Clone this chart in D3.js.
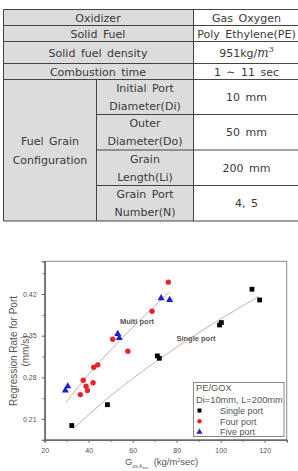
<!DOCTYPE html>
<html>
<head>
<meta charset="utf-8">
<script src="https://cdn.jsdelivr.net/npm/d3@7"></script>
<style>
  body { margin: 0; background: #fff; }
  svg { display: block; }
  .cell { font-family: "DejaVu Sans", sans-serif; font-size: 11px; fill: #3a3a3a; word-spacing: 2px; }
  .tick-label { font-family: "Liberation Sans", Arial, sans-serif; font-size: 7px; fill: #555; }
  .axis-title { font-family: "Liberation Sans", Arial, sans-serif; fill: #555; }
</style>
</head>
<body>
<script>
// table
var simpleRows = ["Oxidizer", "Solid Fuel", "Solid fuel density", "Combustion time"]
var simpleValues = ["Gas Oxygen", "Poly Ethylene(PE)", "951kg/m3", "1 \u223C 11 sec"]
var grainLabel = ["Fuel Grain", "Configuration"]
var grainRows = [["Initial Port", "Diameter(Di)"], ["Outer", "Diameter(Do)"], ["Grain", "Length(Li)"], ["Grain Port", "Number(N)"]]
var grainValues = ["10 mm", "50 mm", "200 mm", "4, 5"]

// chart
var singleG = [32.3, 48.5, 71.2, 72.1, 99.5, 100.3, 114.2, 117.7]
var singleR = [0.199, 0.234, 0.316, 0.312, 0.368, 0.372, 0.428, 0.410]
var fourG = [36.2, 37.5, 38.8, 39.4, 42.0, 42.3, 44.1, 50.9, 57.8, 68.8, 76.2]
var fourR = [0.251, 0.275, 0.265, 0.258, 0.271, 0.297, 0.301, 0.344, 0.324, 0.391, 0.440]
var fiveG = [29.4, 30.5, 53.2, 53.9, 72.9, 76.8]
var fiveR = [0.258, 0.265, 0.353, 0.346, 0.413, 0.410]
var multiFitG = [29.5, 40, 50, 60, 70, 76.6]
var multiFitR = [0.237, 0.285, 0.326, 0.364, 0.400, 0.423]
var singleFitG = [32.7, 50, 70, 90, 117.4]
var singleFitR = [0.193, 0.249, 0.305, 0.355, 0.416]
var xTicks = [20, 40, 60, 80, 100, 120]
var yTicks = [0.21, 0.28, 0.35, 0.42]
var legendLines = ["PE/GOX", "Di=10mm, L=200mm"]
var legendNames = ["Single port", "Four port", "Five port"]

var svg = d3.select("body").append("svg").attr("width", 298).attr("height", 471)

drawTable()
drawChart()

function drawTable() {
  var left = 3.5, mid = 96.5, split = 193.5, right = 298.5
  var rowY = [9.5, 25.5, 41.5, 63.5, 79.5]
  var grainY = [79.5, 114.5, 150, 185.5, 221]
  var g = svg.append("g")
  var grey = "#dcdcdc", line = "#444"

  // backgrounds
  g.append("rect").attr("x", left).attr("y", rowY[0]).attr("width", split - left).attr("height", grainY[4] - rowY[0]).attr("fill", grey)
  g.append("rect").attr("x", split).attr("y", rowY[0]).attr("width", right - split).attr("height", grainY[4] - rowY[0]).attr("fill", "#fff")

  // horizontal lines
  rowY.forEach(function(y) {
    g.append("line").attr("x1", left).attr("x2", right).attr("y1", y).attr("y2", y).attr("stroke", line)
  })
  grainY.slice(1).forEach(function(y, i) {
    var x1 = i == 3 ? left : mid
    g.append("line").attr("x1", x1).attr("x2", right).attr("y1", y).attr("y2", y).attr("stroke", line)
  })
  g.append("line").attr("x1", left).attr("x2", left).attr("y1", rowY[0]).attr("y2", grainY[4]).attr("stroke", line)
  g.append("line").attr("x1", split).attr("x2", split).attr("y1", rowY[0]).attr("y2", grainY[4]).attr("stroke", line)
  g.append("line").attr("x1", right).attr("x2", right).attr("y1", rowY[0]).attr("y2", grainY[4]).attr("stroke", line)
  g.append("line").attr("x1", mid).attr("x2", mid).attr("y1", grainY[0]).attr("y2", grainY[4]).attr("stroke", line)

  var valueX = 246.5
  for (var i = 0; i < simpleRows.length; i++) {
    var cy = (rowY[i] + rowY[i + 1]) / 2 + 4
    addCell(g, simpleRows[i], 98, cy)
    if (i == 2) {
      var t = g.append("text").attr("class", "cell").attr("x", valueX).attr("y", cy).attr("text-anchor", "middle")
      t.append("tspan").text("951kg/")
      t.append("tspan").text("m").style("font-family", "DejaVu Serif, serif").style("font-style", "italic").style("font-size", "12px")
      t.append("tspan").text("3").attr("dy", -5).style("font-family", "DejaVu Serif, serif").style("font-size", "8px")
    } else {
      addCell(g, simpleValues[i], valueX, cy)
    }
  }
  var gmid = (grainY[0] + grainY[4]) / 2
  addCell(g, grainLabel[0], 50, gmid - 5)
  addCell(g, grainLabel[1], 50, gmid + 14)
  for (var j = 0; j < grainRows.length; j++) {
    var c = (grainY[j] + grainY[j + 1]) / 2
    addCell(g, grainRows[j][0], 145, c - 5)
    addCell(g, grainRows[j][1], 145, c + 13)
    addCell(g, grainValues[j], valueX, c + 4)
  }
}

function addCell(g, txt, x, y) {
  g.append("text").attr("class", "cell").attr("x", x).attr("y", y).attr("text-anchor", "middle").text(txt)
}

function drawChart() {
  var x = d3.scaleLinear().domain([20, 130]).range([44.7, 286.7])
  var y = d3.scaleLinear().domain([0.175, 0.475]).range([439.8, 261.3])
  var g = svg.append("g")
  var axisColor = "#666"

  g.append("rect").attr("x", x(20)).attr("y", y(0.475)).attr("width", x(130) - x(20)).attr("height", y(0.175) - y(0.475))
    .attr("fill", "none").attr("stroke", "#888").attr("stroke-width", 1)

  var xAxis = g.append("g").attr("transform", "translate(0," + y(0.175) + ")")
    .call(d3.axisBottom(x).tickValues(xTicks).tickSize(3).tickFormat(d3.format("d")))
  var xMinor = g.append("g").attr("transform", "translate(0," + y(0.175) + ")")
    .call(d3.axisBottom(x).tickValues([30, 50, 70, 90, 110, 130]).tickSize(2).tickFormat(""))
  var yAxis = g.append("g").attr("transform", "translate(" + x(20) + ",0)")
    .call(d3.axisLeft(y).tickValues(yTicks).tickSize(3).tickFormat(d3.format(".2f")))
  var yMinor = g.append("g").attr("transform", "translate(" + x(20) + ",0)")
    .call(d3.axisLeft(y).tickValues([0.245, 0.315, 0.385, 0.455]).tickSize(2).tickFormat(""))
  ;[xAxis, xMinor, yAxis, yMinor].forEach(function(a) {
    a.select(".domain").attr("stroke", "#666")
    a.selectAll("line").attr("stroke", axisColor)
    a.selectAll("text").attr("class", "tick-label").attr("fill", "#555")
  })
  xAxis.selectAll("text").attr("dy", "1.1em")
  yAxis.selectAll("text").attr("dx", "-0.3em")

  // fit lines
  var lineGen = d3.line().x(function(d) { return x(d[0]) }).y(function(d) { return y(d[1]) }).curve(d3.curveMonotoneX)
  g.append("path").datum(d3.zip(multiFitG, multiFitR)).attr("d", lineGen).attr("fill", "none").attr("stroke", "#d4a9a9").attr("stroke-width", 1)
  g.append("path").datum(d3.zip(singleFitG, singleFitR)).attr("d", lineGen).attr("fill", "none").attr("stroke", "#d4a9a9").attr("stroke-width", 1)

  var red = "#e8232a", blue = "#1f1fd0"
  g.selectAll(".single").data(d3.zip(singleG, singleR)).enter().append("rect")
    .attr("x", function(d) { return x(d[0]) - 2.4 }).attr("y", function(d) { return y(d[1]) - 2.4 })
    .attr("width", 4.8).attr("height", 4.8).attr("fill", "#000")
  g.selectAll(".four").data(d3.zip(fourG, fourR)).enter().append("circle")
    .attr("cx", function(d) { return x(d[0]) }).attr("cy", function(d) { return y(d[1]) })
    .attr("r", 2.7).attr("fill", red)
  var tri = d3.symbol().type(d3.symbolTriangle).size(22)
  g.selectAll(".five").data(d3.zip(fiveG, fiveR)).enter().append("path")
    .attr("d", tri).attr("transform", function(d) { return "translate(" + x(d[0]) + "," + y(d[1]) + ")" })
    .attr("fill", blue)

  g.append("text").attr("x", 137).attr("y", 323.5).attr("text-anchor", "middle").attr("class", "axis-title")
    .style("font-size", "7.5px").style("font-weight", "bold").attr("fill", "#222").text("Multi port")
  g.append("text").attr("x", 196).attr("y", 340.5).attr("text-anchor", "middle").attr("class", "axis-title")
    .style("font-size", "7.5px").style("font-weight", "bold").attr("fill", "#222").text("Single port")

  // legend
  var lg = g.append("g")
  lg.append("rect").attr("x", 193.5).attr("y", 382.5).attr("width", 90.5).attr("height", 54).attr("fill", "#fff").attr("stroke", "#888")
  legendLines.forEach(function(t, i) {
    lg.append("text").attr("x", 196).attr("y", 390.5 + i * 12).attr("class", "axis-title").style("font-size", "9.3px").attr("fill", "#444").text(t)
  })
  legendNames.forEach(function(t, i) {
    var ly = 410.5 + i * 10.8
    if (i == 0) lg.append("rect").attr("x", 197.5).attr("y", ly - 2).attr("width", 4).attr("height", 4).attr("fill", "#000")
    if (i == 1) lg.append("circle").attr("cx", 199.5).attr("cy", ly).attr("r", 2.2).attr("fill", red)
    if (i == 2) lg.append("path").attr("d", d3.symbol().type(d3.symbolTriangle).size(16)).attr("transform", "translate(199.5," + ly + ")").attr("fill", blue)
    lg.append("text").attr("x", 220).attr("y", ly + 3.2).attr("class", "axis-title").style("font-size", "9px").attr("fill", "#444").text(t)
  })

  // axis titles
  var yt = g.append("text").attr("class", "axis-title").attr("text-anchor", "middle").style("font-size", "10px")
    .attr("transform", "translate(17," + 351 + ") rotate(-90)")
  yt.append("tspan").attr("x", 0).attr("y", 0).text("Regression Rate for Port")
  yt.append("tspan").attr("x", 0).attr("y", 12).text("(mm/s)")

  var xt = g.append("text").attr("class", "axis-title").attr("x", 125).attr("y", 465).style("font-size", "9.5px")
  xt.append("tspan").text("G")
  xt.append("tspan").text("ox,A").attr("dy", 2.5).style("font-size", "5px")
  xt.append("tspan").text("sec").attr("dy", 1.5).style("font-size", "4px")
  xt.append("tspan").text("(kg/m").attr("dy", -4).attr("dx", 5)
  xt.append("tspan").text("2").attr("dy", -3.5).style("font-size", "5px")
  xt.append("tspan").text("sec)").attr("dy", 3.5)
}
</script>
</body>
</html>
